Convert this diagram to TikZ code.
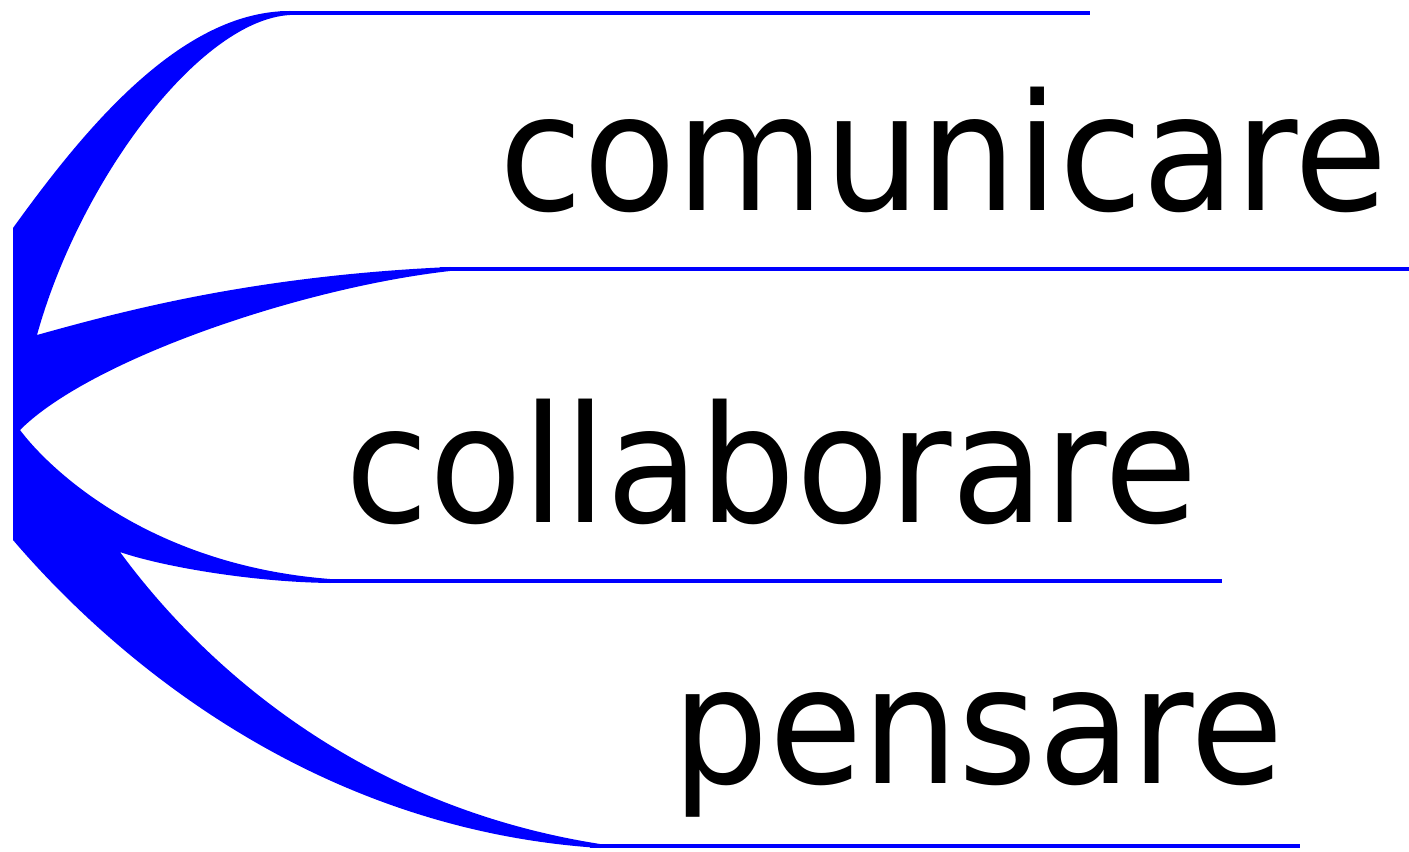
\documentclass[tikz,border=0pt]{standalone}
\usepackage{fontspec}
\newfontfamily\wordfont{DejaVu Sans}[FakeStretch=0.935]
\usetikzlibrary{positioning}
\tikzstyle{horn} = [fill=blue, draw=none]
\tikzstyle{rule} = [draw=blue, line width=0.045cm]
\tikzstyle{word} = [font=\wordfont\fontsize{46.2pt}{55pt}\selectfont,
    anchor=base west, inner sep=0pt]

\begin{document}
\begin{tikzpicture}[x=0.01cm,y=-0.01cm]
  \useasboundingbox (0,0) rectangle (1409,852);

  \path[horn] (13,228) .. controls (83,131) and (180,11) .. (290,11)
    -- (290,15) .. controls (200,20) and (80,180) .. (37,335)
    .. controls (120,312) and (250,276) .. (450,267)
    -- (450,271) .. controls (300,288) and (90,360) .. (20,430)
    .. controls (50,470) and (150,565) .. (330,579)
    -- (330,583) .. controls (250,582) and (160,566) .. (120,552)
    .. controls (170,620) and (320,800) .. (600,844)
    -- (600,848) .. controls (320,830) and (120,665) .. (13,540)
    -- cycle;

  \coordinate (a1) at (280,13);   \coordinate (b1) at (1090,13);
  \coordinate (a2) at (440,269);  \coordinate (b2) at (1409,269);
  \coordinate (a3) at (320,581);  \coordinate (b3) at (1222,581);
  \coordinate (a4) at (590,846);  \coordinate (b4) at (1300,846);
  \foreach \i in {1,...,4}
    \draw[rule] (a\i) -- (b\i);

  \node[word] (comunicare)  at (499,211) {comunicare};
  \node[word] (collaborare) at (345,522) {collaborare};
  \node[word] (pensare)     at (672,783) {pensare};
\end{tikzpicture}
\end{document}
